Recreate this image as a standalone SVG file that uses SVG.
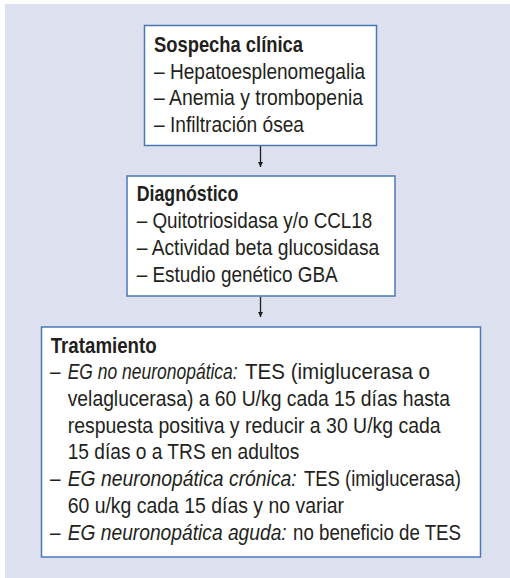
<svg xmlns="http://www.w3.org/2000/svg" width="510" height="578" viewBox="0 0 510 578">
<defs>
<style>
.box{fill:#ffffff;stroke:#4a78b5;stroke-width:1.5}
.t{font-family:"Liberation Sans Narrow","Liberation Sans",Arial,sans-serif;font-size:22px;fill:#231f20}
.b{font-weight:bold}
.i{font-style:italic}
.c{stroke:#231f20;stroke-width:1.3;fill:none}
</style>
<marker id="ah" viewBox="0 0 10 10" refX="10" refY="5" markerWidth="5" markerHeight="5" markerUnits="userSpaceOnUse" orient="auto">
<path d="M0,0 L10,5 L0,10 z" fill="#231f20"/>
</marker>
</defs>
<rect x="0" y="0" width="510" height="578" fill="#ffffff"/>
<rect x="5" y="4" width="505" height="574" fill="#dde0ee"/>
<g id="connectors">
<line class="c" x1="260.5" y1="146" x2="260.5" y2="167" marker-end="url(#ah)"/>
<line class="c" x1="260.5" y1="296.5" x2="260.5" y2="317" marker-end="url(#ah)"/>
</g>
<g id="sospecha">
<rect class="box" x="144.5" y="25.5" width="232" height="120"/>
<text class="t b" x="154" y="52" textLength="149" lengthAdjust="spacingAndGlyphs">Sospecha clínica</text>
<text class="t" x="154" y="78.6" textLength="211" lengthAdjust="spacingAndGlyphs">– Hepatoesplenomegalia</text>
<text class="t" x="154" y="105.2" textLength="209" lengthAdjust="spacingAndGlyphs">– Anemia y trombopenia</text>
<text class="t" x="154" y="131.8" textLength="150" lengthAdjust="spacingAndGlyphs">– Infiltración ósea</text>
</g>
<g id="diagnostico">
<rect class="box" x="127" y="176" width="268" height="120"/>
<text class="t b" x="136.7" y="201" textLength="101.6" lengthAdjust="spacingAndGlyphs">Diagnóstico</text>
<text class="t" x="136.7" y="228.2" textLength="235.6" lengthAdjust="spacingAndGlyphs">– Quitotriosidasa y/o CCL18</text>
<text class="t" x="136.7" y="255.2" textLength="242.6" lengthAdjust="spacingAndGlyphs">– Actividad beta glucosidasa</text>
<text class="t" x="136.7" y="282.2" textLength="201" lengthAdjust="spacingAndGlyphs">– Estudio genético GBA</text>
</g>
<g id="tratamiento">
<rect class="box" x="41.5" y="327" width="439" height="230"/>
<text class="t b" x="50.7" y="352.7" textLength="106" lengthAdjust="spacingAndGlyphs">Tratamiento</text>
<text class="t" x="50" y="379.3" textLength="10.5" lengthAdjust="spacingAndGlyphs">–</text>
<text class="t i" x="67.7" y="379.3" textLength="170" lengthAdjust="spacingAndGlyphs">EG no neuronopática:</text>
<text class="t" x="245" y="379.3" textLength="185" lengthAdjust="spacingAndGlyphs">TES (imiglucerasa o</text>
<text class="t" x="67.7" y="406" textLength="382.3" lengthAdjust="spacingAndGlyphs">velaglucerasa) a 60 U/kg cada 15 días hasta</text>
<text class="t" x="67.7" y="432.7" textLength="373" lengthAdjust="spacingAndGlyphs">respuesta positiva y reducir a 30 U/kg cada</text>
<text class="t" x="67.7" y="459.4" textLength="231.6" lengthAdjust="spacingAndGlyphs">15 días o a TRS en adultos</text>
<text class="t" x="50" y="486.1" textLength="10.5" lengthAdjust="spacingAndGlyphs">–</text>
<text class="t i" x="67.7" y="486.1" textLength="229" lengthAdjust="spacingAndGlyphs">EG neuronopática crónica:</text>
<text class="t" x="304" y="486.1" textLength="157" lengthAdjust="spacingAndGlyphs">TES (imiglucerasa)</text>
<text class="t" x="67.7" y="512.8" textLength="276.3" lengthAdjust="spacingAndGlyphs">60 u/kg cada 15 días y no variar</text>
<text class="t" x="50" y="539.5" textLength="10.5" lengthAdjust="spacingAndGlyphs">–</text>
<text class="t i" x="67.7" y="539.5" textLength="219" lengthAdjust="spacingAndGlyphs">EG neuronopática aguda:</text>
<text class="t" x="293" y="539.5" textLength="168" lengthAdjust="spacingAndGlyphs">no beneficio de TES</text>
</g>
</svg>
